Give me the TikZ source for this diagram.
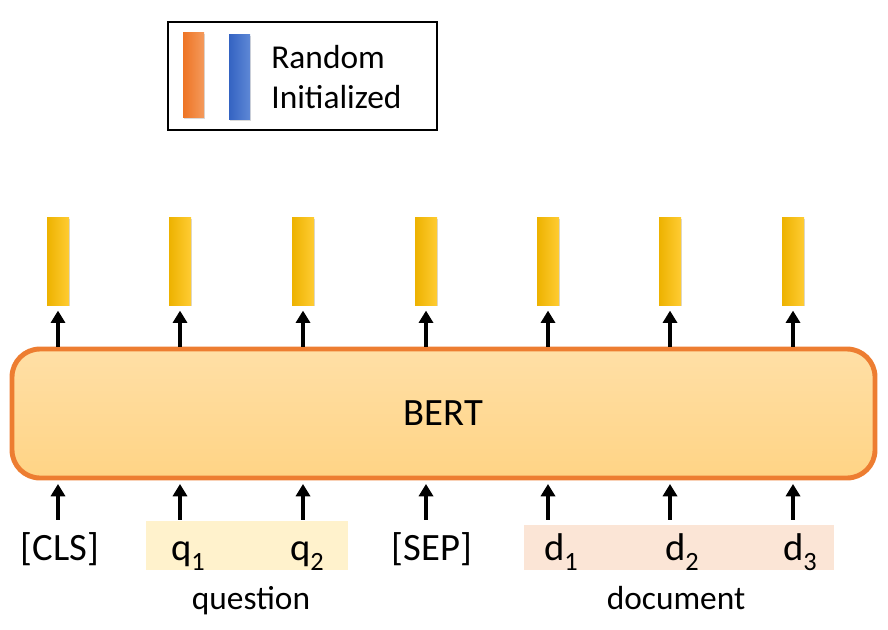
\documentclass[tikz,border=0pt]{standalone}
\usepackage{fontspec}
\setmainfont{Carlito}
\usetikzlibrary{positioning,arrows.meta,shadows}
\definecolor{bertedge}{HTML}{ED7D31}
\definecolor{berttop}{HTML}{FFDFA6}
\definecolor{bertbot}{HTML}{FFD485}
\definecolor{qshade}{HTML}{FFF2CC}
\definecolor{dshade}{HTML}{FBE5D6}
\definecolor{goldL}{HTML}{EDB200}
\definecolor{goldR}{HTML}{FFCC33}
\definecolor{orangeL}{HTML}{EE7424}
\definecolor{orangeR}{HTML}{F49A5C}
\definecolor{blueL}{HTML}{3463C2}
\definecolor{blueR}{HTML}{5E88D6}
\newcommand{\tsub}[1]{\raisebox{-6pt}{\fontsize{15}{15}\selectfont #1}}

\begin{document}
\begin{tikzpicture}[
  outvec/.style={rectangle, minimum width=0.44cm, minimum height=1.74cm, inner sep=0pt,
    drop shadow={shadow xshift=0.7pt, shadow yshift=-0.7pt, opacity=0.3},
    shading=axis, left color=goldL, right color=goldR},
  legbar/.style={rectangle, minimum width=0.42cm, minimum height=1.70cm, inner sep=0pt,
    drop shadow={shadow xshift=0.7pt, shadow yshift=-0.7pt, opacity=0.3}},
  tok/.style={inner sep=0pt, anchor=base, text height=0.8cm, font={\fontsize{22}{26}\selectfont}},
  span/.style={rectangle, inner sep=0pt},
  grouplbl/.style={anchor=base, inner sep=0pt, font={\fontsize{19}{23}\selectfont}},
  arr/.style={line width=2pt, -{Triangle[width=8pt,length=7pt]}}
]
\useasboundingbox (0,0) rectangle (17.76,12.58);

% legend
\node[draw=black, line width=1.2pt, minimum width=5.38cm, minimum height=2.16cm, inner sep=0pt] (legend) at (6.05,11.06) {};
\node[legbar, left color=orangeL, right color=orangeR] (legorange) at (3.87,11.07) {};
\node[legbar, left color=blueL, right color=blueR] (legblue) at (4.79,11.03) {};
\node[anchor=west, align=left, inner sep=0pt, font={\fontsize{19}{23}\selectfont}] (legtext) at (5.42,11.04) {Random\\Initialized};

% BERT encoder
\node[rectangle, rounded corners=0.56cm, draw=bertedge, line width=2.8pt, top color=berttop, bottom color=bertbot,
  minimum width=17.26cm, minimum height=2.58cm, font={\fontsize{22}{26}\selectfont}] (bert) at (8.87,4.31) {BERT};

% output vectors
\node[outvec] (o1) at (1.16,7.35) {};
\node[outvec] (o2) at (3.60,7.35) {};
\node[outvec] (o3) at (6.06,7.35) {};
\node[outvec] (o4) at (8.52,7.35) {};
\node[outvec] (o5) at (10.96,7.35) {};
\node[outvec] (o6) at (13.40,7.35) {};
\node[outvec] (o7) at (15.86,7.35) {};

% input spans
\node[span, fill=qshade, minimum width=4.04cm, minimum height=0.98cm] (qspan) at (4.94,1.67) {};
\node[span, fill=dshade, minimum width=6.20cm, minimum height=0.90cm] (dspan) at (13.58,1.63) {};

% input tokens
\node[tok] (t1) at (1.20,1.38) {[CLS]};
\node[tok] (t2) at (3.76,1.38) {q\tsub{1}};
\node[tok] (t3) at (6.14,1.38) {q\tsub{2}};
\node[tok] (t4) at (8.64,1.38) {[SEP]};
\node[tok] (t5) at (11.22,1.38) {d\tsub{1}};
\node[tok] (t6) at (13.64,1.38) {d\tsub{2}};
\node[tok] (t7) at (16.00,1.38) {d\tsub{3}};

\node[grouplbl] (qlbl) at (5.02,0.40) {question};
\node[grouplbl] (dlbl) at (13.52,0.40) {document};

% arrows into BERT
\draw[arr, shorten >=2pt] (t1.north -| o1) -- (bert.south -| o1);
\draw[arr, shorten >=2pt] (t2.north -| o2) -- (bert.south -| o2);
\draw[arr, shorten >=2pt] (t3.north -| o3) -- (bert.south -| o3);
\draw[arr, shorten >=2pt] (t4.north -| o4) -- (bert.south -| o4);
\draw[arr, shorten >=2pt] (t5.north -| o5) -- (bert.south -| o5);
\draw[arr, shorten >=2pt] (t6.north -| o6) -- (bert.south -| o6);
\draw[arr, shorten >=2pt] (t7.north -| o7) -- (bert.south -| o7);

% arrows out of BERT
\draw[arr, shorten >=3pt] (bert.north -| o1) -- (o1.south);
\draw[arr, shorten >=3pt] (bert.north -| o2) -- (o2.south);
\draw[arr, shorten >=3pt] (bert.north -| o3) -- (o3.south);
\draw[arr, shorten >=3pt] (bert.north -| o4) -- (o4.south);
\draw[arr, shorten >=3pt] (bert.north -| o5) -- (o5.south);
\draw[arr, shorten >=3pt] (bert.north -| o6) -- (o6.south);
\draw[arr, shorten >=3pt] (bert.north -| o7) -- (o7.south);
\end{tikzpicture}
\end{document}
